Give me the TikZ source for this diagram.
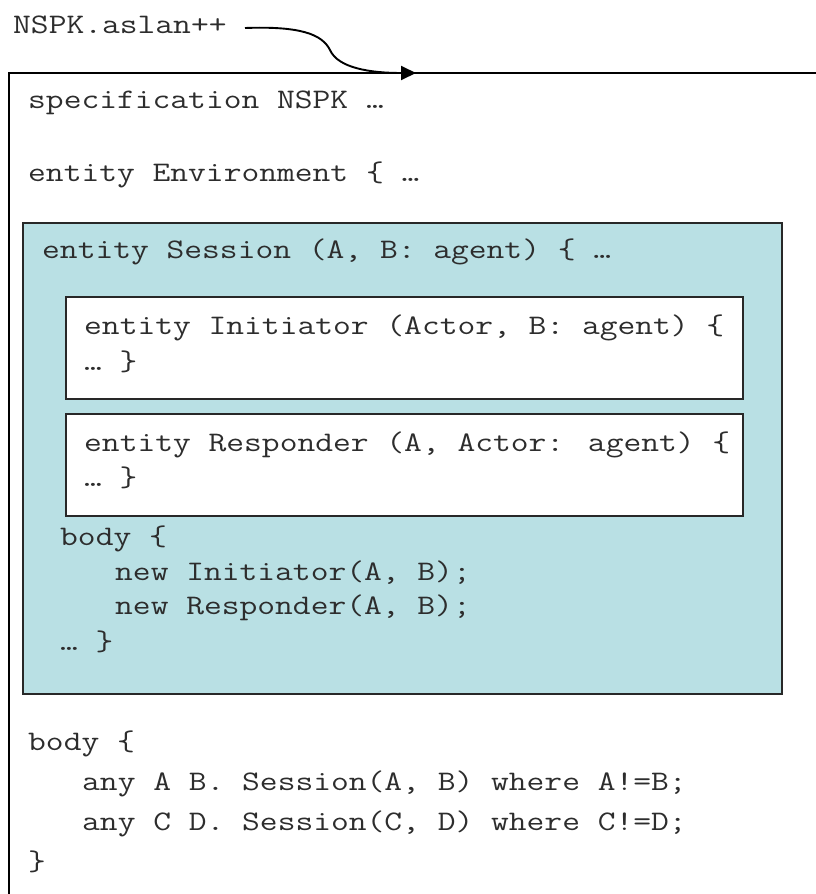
\documentclass[tikz,border=0pt]{standalone}
\usepackage{fontspec}
\newfontfamily\codefont{Latin Modern Mono}[FakeStretch=1.22]
\usetikzlibrary{arrows.meta}
\definecolor{sessionfill}{RGB}{185,224,228}
\definecolor{frameline}{RGB}{40,40,40}
\definecolor{codeink}{RGB}{45,45,45}
\tikzset{
  code/.style={anchor=base west, inner sep=0pt, font=\codefont\fontsize{28.3}{32}\selectfont, text=codeink},
  panel/.style={draw=frameline, line width=2pt, anchor=north west, inner sep=0pt},
}
\begin{document}
\begin{tikzpicture}[x=1pt, y=-1pt]
\useasboundingbox (0,0) rectangle (816,894);

% open outer frame of the specification file
\draw[line width=2pt, black] (9,894) -- (9,73) -- (816,73);
\coordinate (fileentry) at (416,73);

% file name and its connector into the frame
\node[code] (fname) at (13,33) {NSPK.aslan++};
\coordinate (fstart) at (245,28);
\draw[line width=1.9pt, -{Triangle[length=15pt,width=14pt]}]
  (fstart) .. controls (300,26) and (322,34) .. (330,50)
  .. controls (338,68) and (370,73) .. (fileentry);

% top-level lines
\node[code] (spec) at (28,108) {specification NSPK …};
\node[code] (env) at (28,181) {entity Environment \{ …};

% Session entity panel
\node[panel, fill=sessionfill, minimum width=759pt, minimum height=471pt] (session) at (22,222) {};
\node[code] (sesshead) at (42,258) {entity Session (A, B: agent) \{ …};

% nested role entities
\node[panel, fill=white, minimum width=677pt, minimum height=102pt] (init) at (65,296) {};
\node[code] (inithead) at (84,334) {entity Initiator (Actor, B: agent) \{};
\node[code] (initend) at (84,370) {… \}};

\node[panel, fill=white, minimum width=677pt, minimum height=102pt] (resp) at (65,413) {};
\node[code] (resphead) at (84,451) {entity Responder (A, Actor: agent) \{};
\node[code] (respend) at (84,486) {… \}};

% Session body
\node[code] (sbody) at (60,545) {body \{};
\node[code] (snewi) at (115,580) {new Initiator(A, B);};
\node[code] (snewr) at (115,614) {new Responder(A, B);};
\node[code] (sbodyend) at (60,650) {… \}};

% Environment body
\node[code] (ebody) at (28,750) {body \{};
\node[code] (eany1) at (82,790) {any A B. Session(A, B) where A!=B;};
\node[code] (eany2) at (82,830) {any C D. Session(C, D) where C!=D;};
\node[code] (ebodyend) at (28,870) {\}};
\end{tikzpicture}
\end{document}
